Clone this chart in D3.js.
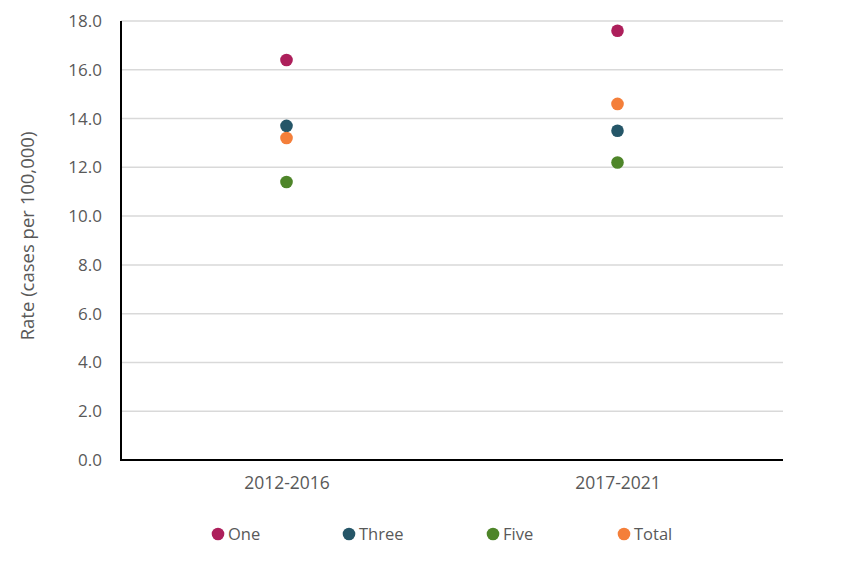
<!DOCTYPE html>
<html lang="en">
<head>
  <meta charset="UTF-8">
  <title>Rate by period</title>
  <style>
    html, body { margin: 0; background: #fff; overflow: hidden; }
    svg { display: block; }
    svg text { font-family: "Open Sans", "Noto Sans", sans-serif; fill: #595959; }
  </style>
</head>
<body>
  <div id="chart"></div>
  <script src="https://d3js.org/d3.v7.min.js"></script>
  <script>
    const WIDTH = 850;
    const HEIGHT = 565;
    const margin = {top: 21, right: 67, bottom: 105, left: 121};
    const innerWidth = WIDTH - margin.left - margin.right;
    const innerHeight = HEIGHT - margin.top - margin.bottom;

    // data
    const periods = ['2012-2016', '2017-2021'];
    const seriesNames = ['One', 'Three', 'Five', 'Total'];
    const seriesColors = ['#AD1F5B', '#255668', '#4E8529', '#F47F3A'];
    const one = [16.4, 17.6];
    const three = [13.7, 13.5];
    const five = [11.4, 12.2];
    const total = [13.2, 14.6];
    const yTicks = [0, 2, 4, 6, 8, 10, 12, 14, 16, 18];

    const seriesValues = [one, three, five, total];

    const svg = d3.select('#chart')
      .append('svg')
      .attr('width', WIDTH)
      .attr('height', HEIGHT);

    const main = svg.append('g')
      .attr('transform', `translate(${margin.left},${margin.top})`);

    const xScale = d3.scalePoint()
      .domain(periods)
      .range([0, innerWidth])
      .padding(0.5);

    const yScale = d3.scaleLinear()
      .domain([0, 18])
      .range([innerHeight, 0]);

    // gridlines
    main.append('g')
      .selectAll('line')
      .data(yTicks.filter(d => d > 0))
      .join('line')
      .attr('x1', 0)
      .attr('x2', innerWidth)
      .attr('y1', d => yScale(d))
      .attr('y2', d => yScale(d))
      .attr('stroke', '#d9d9d9')
      .attr('stroke-width', 1.5);

    // y axis
    const yAxis = d3.axisLeft(yScale)
      .tickValues(yTicks)
      .tickFormat(d3.format('.1f'))
      .tickSize(0)
      .tickPadding(19);
    const yAxisG = main.append('g').call(yAxis);
    yAxisG.select('.domain').remove();
    yAxisG.selectAll('text').attr('font-size', 17).attr('fill', '#595959');

    // x axis
    const xAxis = d3.axisBottom(xScale).tickSize(0).tickPadding(17);
    const xAxisG = main.append('g')
      .attr('transform', `translate(0,${innerHeight})`)
      .call(xAxis);
    xAxisG.select('.domain').remove();
    xAxisG.selectAll('text').attr('font-size', 17.5).attr('fill', '#595959');

    // axis lines
    main.append('line')
      .attr('x1', 0).attr('x2', 0)
      .attr('y1', 0).attr('y2', innerHeight)
      .attr('stroke', '#000').attr('stroke-width', 2);
    main.append('line')
      .attr('x1', -1).attr('x2', innerWidth)
      .attr('y1', innerHeight).attr('y2', innerHeight)
      .attr('stroke', '#000').attr('stroke-width', 2);

    // points
    seriesValues.forEach((vals, s) => {
      main.append('g')
        .selectAll('circle')
        .data(vals)
        .join('circle')
        .attr('cx', (d, i) => xScale(periods[i]))
        .attr('cy', d => yScale(d))
        .attr('r', 6.3)
        .attr('fill', seriesColors[s]);
    });

    // y axis title
    svg.append('text')
      .attr('transform', `translate(34,${margin.top + 215}) rotate(-90)`)
      .attr('text-anchor', 'middle')
      .attr('font-size', 18.5)
      .text('Rate (cases per 100,000)');

    // legend
    const legendX = [218, 349, 493, 624];
    const legend = svg.append('g')
      .selectAll('g')
      .data(seriesNames)
      .join('g')
      .attr('transform', (d, i) => `translate(${legendX[i]},534)`);
    legend.append('circle')
      .attr('r', 6.3)
      .attr('fill', (d, i) => seriesColors[i]);
    legend.append('text')
      .attr('x', 10)
      .attr('dy', '0.35em')
      .attr('font-size', 16.5)
      .text(d => d);
  </script>
</body>
</html>
